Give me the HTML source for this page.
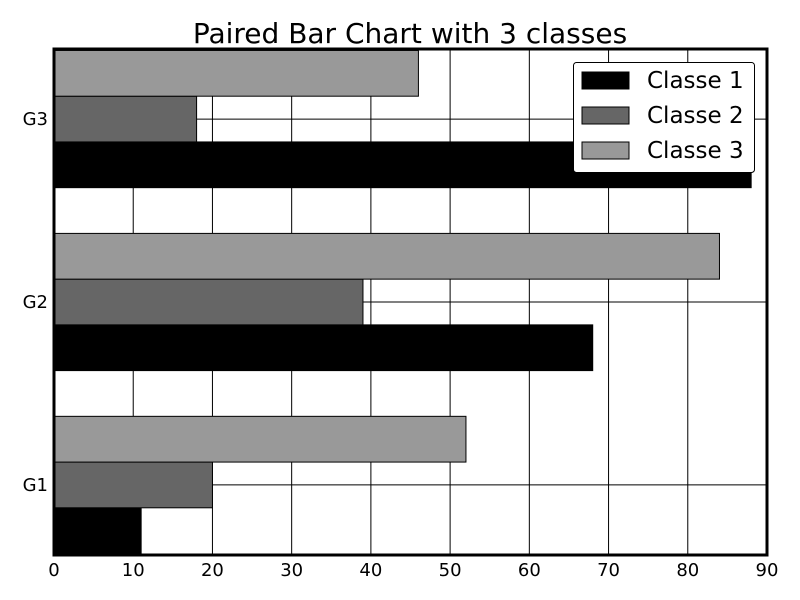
<!DOCTYPE html>
<html><head><meta charset="utf-8"><style>
body{margin:0;background:#fff;}
svg{display:block;font-family:"DejaVu Sans","Liberation Sans",sans-serif;}
</style></head><body>
<svg id="chart" width="800" height="600">
<text x="410" y="43" font-size="28" text-anchor="middle">Paired Bar Chart with 3 classes</text>
<g id="grid"></g><g id="bars"></g><g id="axes"></g>
</svg>
<script>
const categories = ["G1","G2","G3"];
const seriesNames = ["Classe 1","Classe 2","Classe 3"];
const class1 = [11, 68, 88];
const class2 = [20, 39, 18];
const class3 = [52, 84, 46];
const xTicks = [0,10,20,30,40,50,60,70,80,90];
const colors = ["#000000","#666666","#999999"];
const L=54,R=767,T=49,B=555;
const xMin=0,xMax=90,yMin=-0.383,yMax=2.383;
const NS="http://www.w3.org/2000/svg";
function xs(v){return L+(v-xMin)/(xMax-xMin)*(R-L);}
function ys(v){return B-(v-yMin)/(yMax-yMin)*(B-T);}
function mk(tag,attrs,parent){const e=document.createElementNS(NS,tag);for(const k in attrs)e.setAttribute(k,attrs[k]);parent.appendChild(e);return e;}
const grid=document.getElementById('grid'),bars=document.getElementById('bars'),axes=document.getElementById('axes');
xTicks.forEach(t=>{
  const l=mk('line',{x1:xs(t),x2:xs(t),y1:T,y2:B,stroke:'#000','stroke-width':1},grid);
  
  
  const tx=mk('text',{x:xs(t),y:B+21,'font-size':18,'text-anchor':'middle'},axes);
  tx.textContent=t;
  
  
});
categories.forEach((c,i)=>{
  const l=mk('line',{x1:L,x2:R,y1:ys(i),y2:ys(i),stroke:'#000','stroke-width':1},grid);
  
  
  const tx=mk('text',{x:L-6,y:ys(i)+6,'font-size':18,'text-anchor':'end'},axes);
  tx.textContent=c;
  
  
});
const series=[class1,class2,class3];
const h=0.25;
series.forEach((s,k)=>{
  s.forEach((v,i)=>{
    const c=i+(k-1)*h;
    const y0=ys(c+h/2),y1=ys(c-h/2);
    const r=mk('rect',{x:xs(0),y:y0,width:xs(v)-xs(0),height:y1-y0,fill:colors[k],stroke:'#000','stroke-width':1},bars);
    
    
  });
});
const fr=mk('rect',{x:L,y:T,width:R-L,height:B-T,fill:'none',stroke:'#000','stroke-width':3},axes);


const lg=mk('g',{},axes);


mk('rect',{x:573.5,y:62.5,width:181,height:110,rx:3,fill:'#fff',stroke:'#000','stroke-width':1},lg);
seriesNames.forEach((n,k)=>{
  const yy=72+k*35;
  const sw=mk('rect',{x:582,y:yy,width:47,height:17,fill:colors[k],stroke:'#000','stroke-width':1},lg);
  
  
  const t=mk('text',{x:647,y:yy+16,'font-size':23},lg);
  t.textContent=n;
  
  
});
</script>
</body></html>
